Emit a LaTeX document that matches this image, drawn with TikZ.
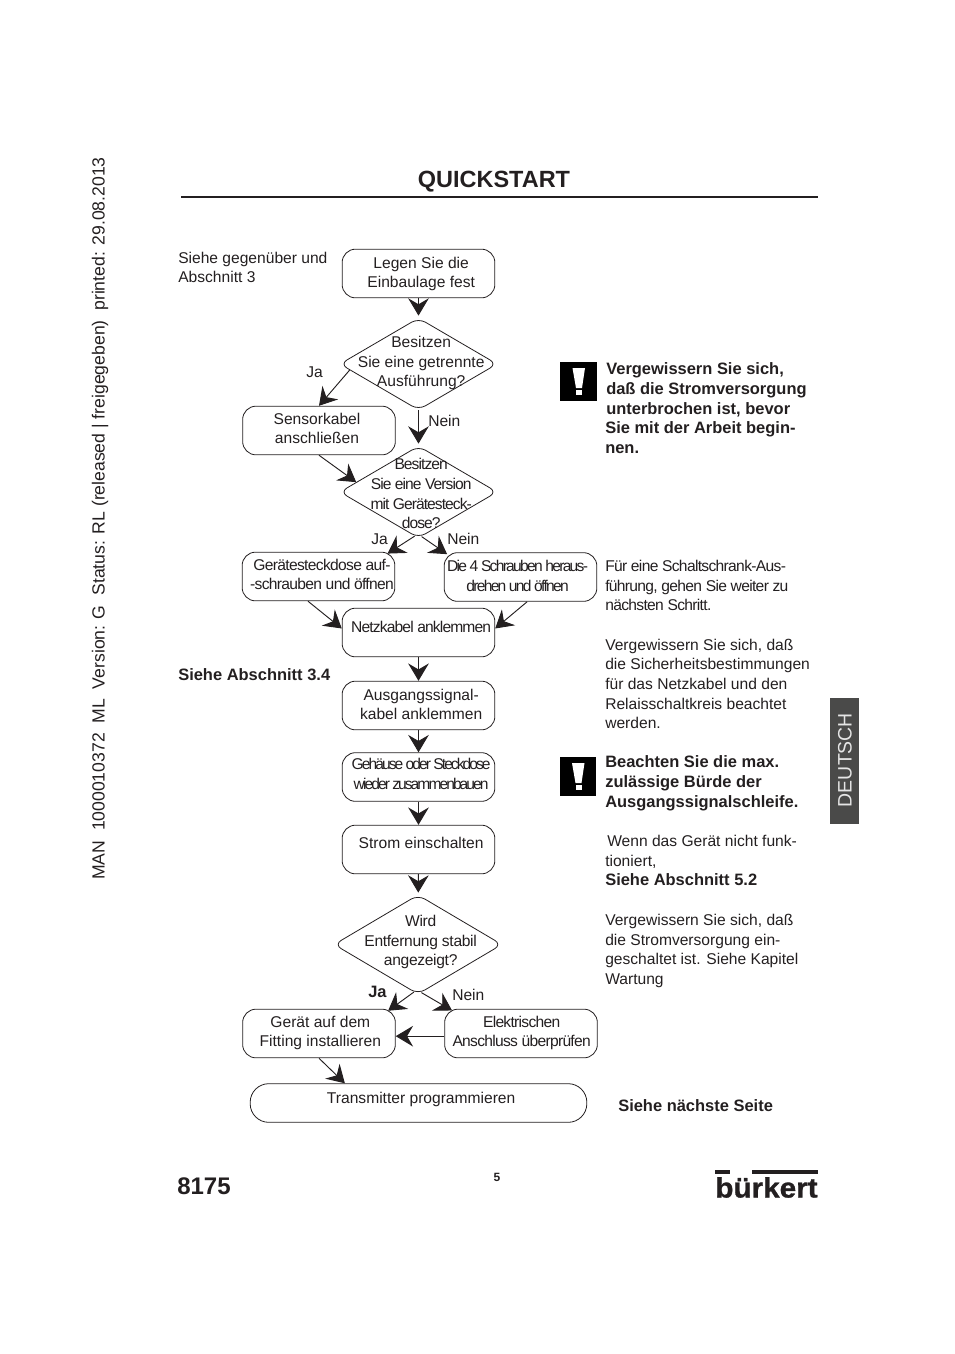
\documentclass[tikz,border=0pt]{standalone}
\usepackage{fontspec}
\setmainfont{Liberation Sans}
\usetikzlibrary{arrows.meta,shapes.geometric}
\definecolor{ink}{HTML}{231F20}
\definecolor{tabgray}{HTML}{4A4A49}
\newcommand{\boxfont}{\fontsize{11.7}{14.7}\selectfont}
\newcommand{\boldfont}{\fontsize{12.35}{14.7}\selectfont\bfseries}
% text of a node: x shift, y shift, lines
\newcommand{\tx}[3]{\makebox[0pt]{\kern#1\kern#1\smash{\raisebox{\dimexpr#2-2.6pt}{\begin{tabular}{@{}c@{}}#3\end{tabular}}}}}
\begin{document}
\begin{tikzpicture}[x=0.75pt,y=-0.75pt,text=ink]
\tikzstyle{stepbox}=[draw=ink,line width=0.6pt,rounded corners=10pt,minimum width=114.5pt,minimum height=36.5pt,inner sep=0pt,font=\boxfont]
\tikzstyle{decision}=[draw=ink,line width=0.6pt,shape=diamond,rounded corners=6pt,inner sep=0pt,font=\boxfont]
\tikzstyle{flow}=[draw=ink,line width=0.7pt,-{Stealth[length=13pt,width=15.5pt,inset=4.5pt]}]
\tikzstyle{tight}=[font=\boxfont\addfontfeature{LetterSpace=#1}]
\tikzstyle{side}=[anchor=west,inner sep=0pt,text height=11.7pt,text depth=2.5pt,font=\boxfont]
\tikzstyle{sidebold}=[side,font=\boldfont]
\useasboundingbox (0,0) rectangle (954,1354);
\node[inner sep=0pt,font=\fontsize{13.2}{15}\selectfont,rotate=90] (stamp) at (100,518.5) {MAN\ \ 1000010372\ \ ML\ \ Version: G\ \ Status: RL (released | freigegeben)\ \ printed: 29.08.2013};
\node[inner sep=0pt,font=\fontsize{17.6}{20}\selectfont\bfseries] (title) at (494,182) {QUICKSTART};
\coordinate (ruleL) at (181,197);
\coordinate (ruleR) at (818,197);
\draw[ink,line width=1.5pt] (ruleL) -- (ruleR);
% flow boxes
\node[stepbox] (lage) at (418.5,273.5) {\tx{2pt}{-0.7pt}{Legen Sie die\\Einbaulage fest}};
\node[decision,minimum width=118pt,minimum height=69pt] (getrennt) at (418.5,364) {\tx{2pt}{0pt}{Besitzen\\Sie eine getrennte\\Ausführung?}};
\node[stepbox] (sensor) at (319,430.5) {\tx{-1.5pt}{0pt}{Sensorkabel\\anschließen}};
\node[decision,minimum width=118pt,minimum height=69pt,tight=-6] (version) at (418.5,492) {\tx{2pt}{-3pt}{Besitzen\\Sie eine Version\\mit Gerätesteck-\\dose?}};
\node[stepbox,tight=-4.3] (geraet) at (318.5,576.5) {\tx{2.6pt}{0pt}{Gerätesteckdose auf-\\-schrauben und öffnen}};
\node[stepbox,tight=-11] (schrauben) at (520.5,577) {\tx{-2.2pt}{-1pt}{Die 4 Schrauben heraus-\\drehen und öffnen}};
\node[stepbox,tight=-5.4] (netz) at (418.5,632.5) {\tx{2pt}{2.5pt}{Netzkabel anklemmen}};
\node[stepbox] (ausgang) at (418.5,705.5) {\tx{2pt}{-0.7pt}{Ausgangssignal-\\kabel anklemmen}};
\node[stepbox,tight=-12.5] (gehaeuse) at (418.5,777) {\tx{2pt}{0.7pt}{Gehäuse oder Steckdose\\wieder zusammenbauen}};
\node[stepbox] (strom) at (418.5,849.5) {\tx{2pt}{3.5pt}{Strom einschalten}};
\node[decision,minimum width=126pt,minimum height=74.5pt,tight=-2] (stabil) at (418,944.5) {\tx{2pt}{1.4pt}{Wird\\Entfernung stabil\\angezeigt?}};
\node[stepbox] (fitting) at (319,1033.5) {\tx{1pt}{0pt}{Gerät auf dem\\Fitting installieren}};
\node[stepbox,tight=-4.5] (anschluss) at (521,1033.5) {\tx{0.5pt}{0pt}{Elektrischen\\Anschluss überprüfen}};
\node[stepbox,minimum width=252.5pt,minimum height=29pt,rounded corners=14pt] (transmitter) at (418.5,1103) {\tx{2pt}{2.5pt}{Transmitter programmieren}};
% connectors
\draw[flow,shorten >=1.5pt] (lage) -- (getrennt);
\draw[flow] (getrennt.185) -- (sensor.north);
\draw[flow,shorten >=1.5pt] (getrennt) -- (version);
\draw[flow] (sensor.south) -- (version.171);
\draw[flow,shorten >=-2.5pt] (version.265) -- (geraet.19.5);
\draw[flow,shorten >=-2.5pt] (version.274) -- (schrauben.162);
\draw[flow] (geraet.247) -- (netz.177);
\draw[flow] (schrauben.285) -- (netz.3);
\draw[flow] (netz) -- (ausgang);
\draw[flow] (ausgang) -- (gehaeuse);
\draw[flow] (gehaeuse) -- (strom);
\draw[flow,shorten >=1.5pt] (strom) -- (stabil);
\draw[flow,shorten >=-2.5pt] (stabil.265) -- (fitting.19);
\draw[flow,shorten >=-2.5pt] (stabil.274) -- (anschluss.161);
\draw[flow] (anschluss.182) -- (fitting.-2);
\draw[flow] (fitting.south) -- (transmitter.165);
% branch labels
\node[side] (ja1) at (306,371) {Ja};
\node[side] (nein1) at (428,420) {Nein};
\node[side] (ja2) at (371,538) {Ja};
\node[side] (nein2) at (447,538) {Nein};
\node[sidebold] (ja3) at (368,991) {Ja};
\node[side] (nein3) at (452,994) {Nein};
% left column
\node[side] (siehe1) at (178,257) {Siehe gegenüber und};
\node[side] (siehe2) at (178,276) {Abschnitt 3};
\node[sidebold] (siehe3) at (178,674) {Siehe Abschnitt 3.4};
% warning signs
\foreach \x/\y in {560/362,559.5/757}
{
\fill[black] (\x,\y) rectangle +(36.5,39);
\fill[white] (\x+12.5,\y+6) -- +(12.5,0) -- +(9.5,20) -- +(3.5,20) -- cycle;
\fill[white] (\x+16,\y+28) rectangle +(6,4.5);
}
% right column
\foreach \t/\x/\y in {Vergewissern Sie sich{,}/606/368,daß die Stromversorgung/606/388,unterbrochen ist{,} bevor/606/408,Sie mit der Arbeit begin-/605/427,nen./605/447,Beachten Sie die max./605/761,zulässige Bürde der/605/781,Ausgangssignalschleife./605/801,Siehe Abschnitt 5.2/605/879,Siehe nächste Seite/618/1105}
{
\path (\x,\y) node[sidebold] {\t};
}
\foreach \t/\x/\y in {Vergewissern Sie sich{,} daß/605/644,die Sicherheitsbestimmungen/605/663,für das Netzkabel und den/605/683,Relaisschaltkreis beachtet/605/703,werden./605/722,Wenn das Gerät nicht funk-/607/840,tioniert{,}/605/860,Vergewissern Sie sich{,} daß/605/919,die Stromversorgung ein-/605/939,geschaltet ist. Siehe Kapitel/605/958,Wartung/605/978}
{
\path (\x,\y) node[side] {\t};
}
\foreach \t/\y in {Für eine Schaltschrank-Aus-/565,führung{,} gehen Sie weiter zu/585,nächsten Schritt./604}
{
\path (605,\y) node[side,tight=-4.3] {\t};
}
% side tab
\node[fill=tabgray,minimum width=21.5pt,minimum height=94.5pt,inner sep=0pt] (tab) at (844.3,761) {};
\node[inner sep=0pt,rotate=90,text=white!90!black,font=\fontsize{14.6}{16}\selectfont] (deutsch) at (845,760) {DEUTSCH};
% footer
\node[inner sep=0pt,font=\fontsize{18}{20}\selectfont\bfseries] (nummer) at (204,1186) {8175};
\node[inner sep=0pt,font=\fontsize{9}{10}\selectfont\bfseries] (seite) at (497,1177) {5};
\node[inner sep=0pt,font=\fontsize{21}{26}\selectfont\bfseries\addfontfeature{FakeBold=1},xscale=1.06,anchor=base] (logo) at (766.5,1197.5) {bürkert};
\foreach \a/\b in {715/730,752/818}
{
\fill[ink] (\a,1170) rectangle (\b,1173.5);
}
\end{tikzpicture}
\end{document}
